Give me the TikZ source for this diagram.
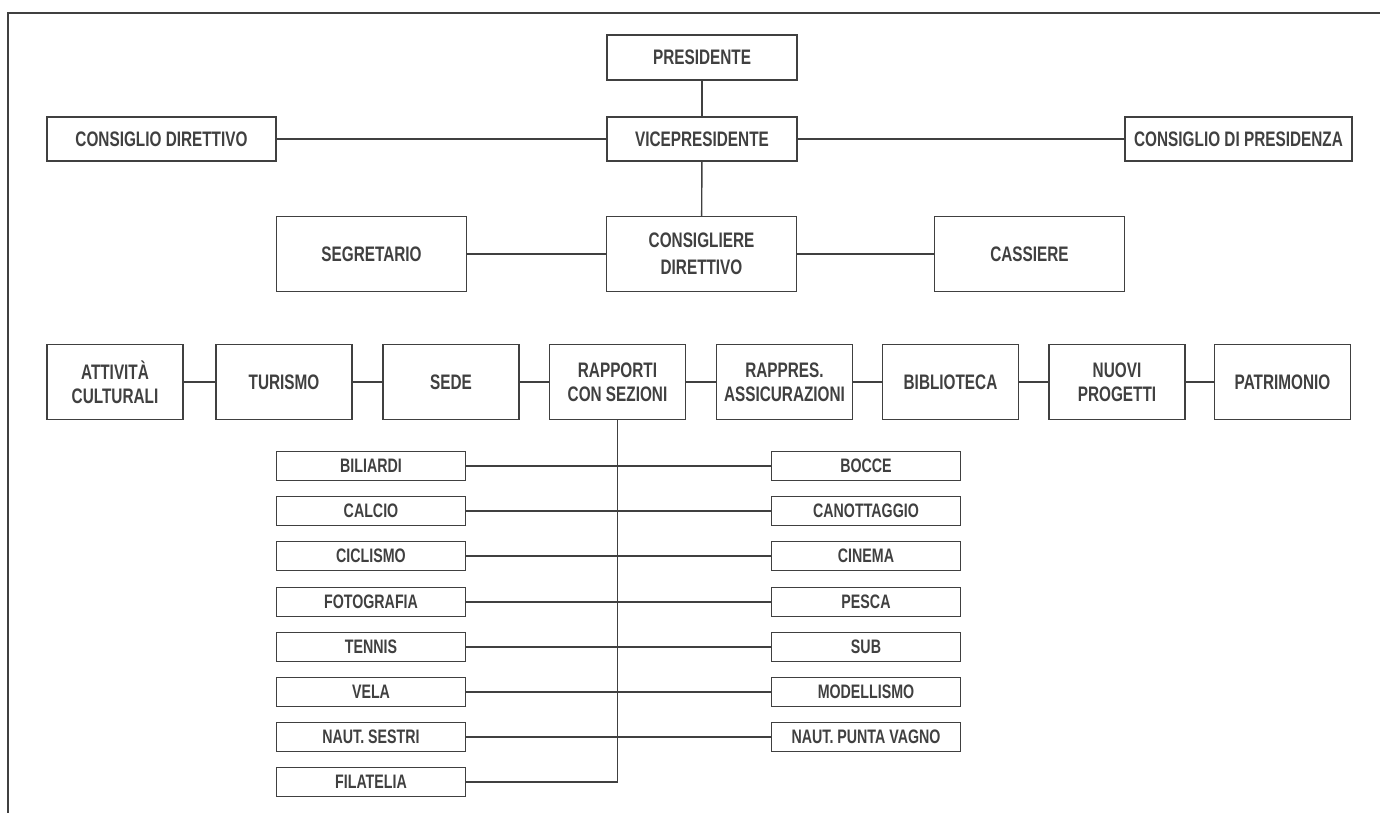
\documentclass[tikz,border=0pt]{standalone}
\usepackage{fontspec}
\setmainfont{Liberation Sans}[FakeStretch=0.73]
\begin{document}
\begin{tikzpicture}[x=1pt,y=-1pt,color=black!75,line width=1.4pt,
  b/.style={draw,inner sep=0pt,align=center,minimum width=190pt,minimum height=45pt,
    font=\fontsize{21}{27}\selectfont\bfseries},
  r/.style={draw,inner sep=0pt,align=center,minimum width=136pt,minimum height=75pt,
    font=\fontsize{21}{24}\selectfont\bfseries},
  sz/.style={draw,inner sep=0pt,minimum width=189pt,minimum height=29pt,
    font=\fontsize{19.5}{20}\selectfont\bfseries}]
  \useasboundingbox (0,0) rectangle (1380,813);
  % cornice
  \draw (8,813) -- (8,13) -- (1380,13);
  % vertici
  \node[b] (pres) at (702,57.5) {PRESIDENTE};
  \node[b,minimum height=44pt] (vice) at (702,139) {VICEPRESIDENTE};
  \node[b,minimum width=229pt,minimum height=44pt] (cdir) at (161.5,139) {CONSIGLIO DIRETTIVO};
  \node[b,minimum width=227pt,minimum height=44pt] (cpres) at (1238.5,139) {CONSIGLIO DI PRESIDENZA};
  \node[b,minimum height=75pt] (segr) at (371.5,254) {SEGRETARIO};
  \node[b,minimum height=75pt] (cons) at (701.5,254) {CONSIGLIERE\\DIRETTIVO};
  \node[b,minimum height=75pt] (cass) at (1029.5,254) {CASSIERE};
  % incarichi
  \node[r] (att) at (115,382) {ATTIVITÀ\\CULTURALI};
  \node[r] (tur) at (284,382) {TURISMO};
  \node[r] (sede) at (451,382) {SEDE};
  \node[r] (rap) at (617.5,382) {RAPPORTI\\CON SEZIONI};
  \node[r] (ass) at (784.5,382) {RAPPRES.\\ASSICURAZIONI};
  \node[r] (bib) at (950.5,382) {BIBLIOTECA};
  \node[r] (nuo) at (1117,382) {NUOVI\\PROGETTI};
  \node[r] (pat) at (1282.5,382) {PATRIMONIO};
  % sezioni
  \node[sz] (bil) at (371,466) {BILIARDI};
  \node[sz] (cal) at (371,511) {CALCIO};
  \node[sz] (cic) at (371,556) {CICLISMO};
  \node[sz] (fot) at (371,602) {FOTOGRAFIA};
  \node[sz] (ten) at (371,647) {TENNIS};
  \node[sz] (vel) at (371,692) {VELA};
  \node[sz] (nse) at (371,737) {NAUT. SESTRI};
  \node[sz] (fil) at (371,782) {FILATELIA};
  \node[sz] (boc) at (866,466) {BOCCE};
  \node[sz] (can) at (866,511) {CANOTTAGGIO};
  \node[sz] (cin) at (866,556) {CINEMA};
  \node[sz] (pes) at (866,602) {PESCA};
  \node[sz] (sub) at (866,647) {SUB};
  \node[sz] (mod) at (866,692) {MODELLISMO};
  \node[sz] (npv) at (866,737) {NAUT. PUNTA VAGNO};
  % collegamenti
  \draw (pres)--(vice); \draw (vice)--(cons);
  \draw (cdir)--(vice); \draw (vice)--(cpres);
  \draw (segr)--(cons); \draw (cons)--(cass);
  \draw (att)--(tur); \draw (tur)--(sede); \draw (sede)--(rap); \draw (rap)--(ass);
  \draw (ass)--(bib); \draw (bib)--(nuo); \draw (nuo)--(pat);
  \draw (rap.south) |- (fil);
  \draw (bil)--(boc); \draw (cal)--(can); \draw (cic)--(cin); \draw (fot)--(pes);
  \draw (ten)--(sub); \draw (vel)--(mod); \draw (nse)--(npv);
\end{tikzpicture}
\end{document}
